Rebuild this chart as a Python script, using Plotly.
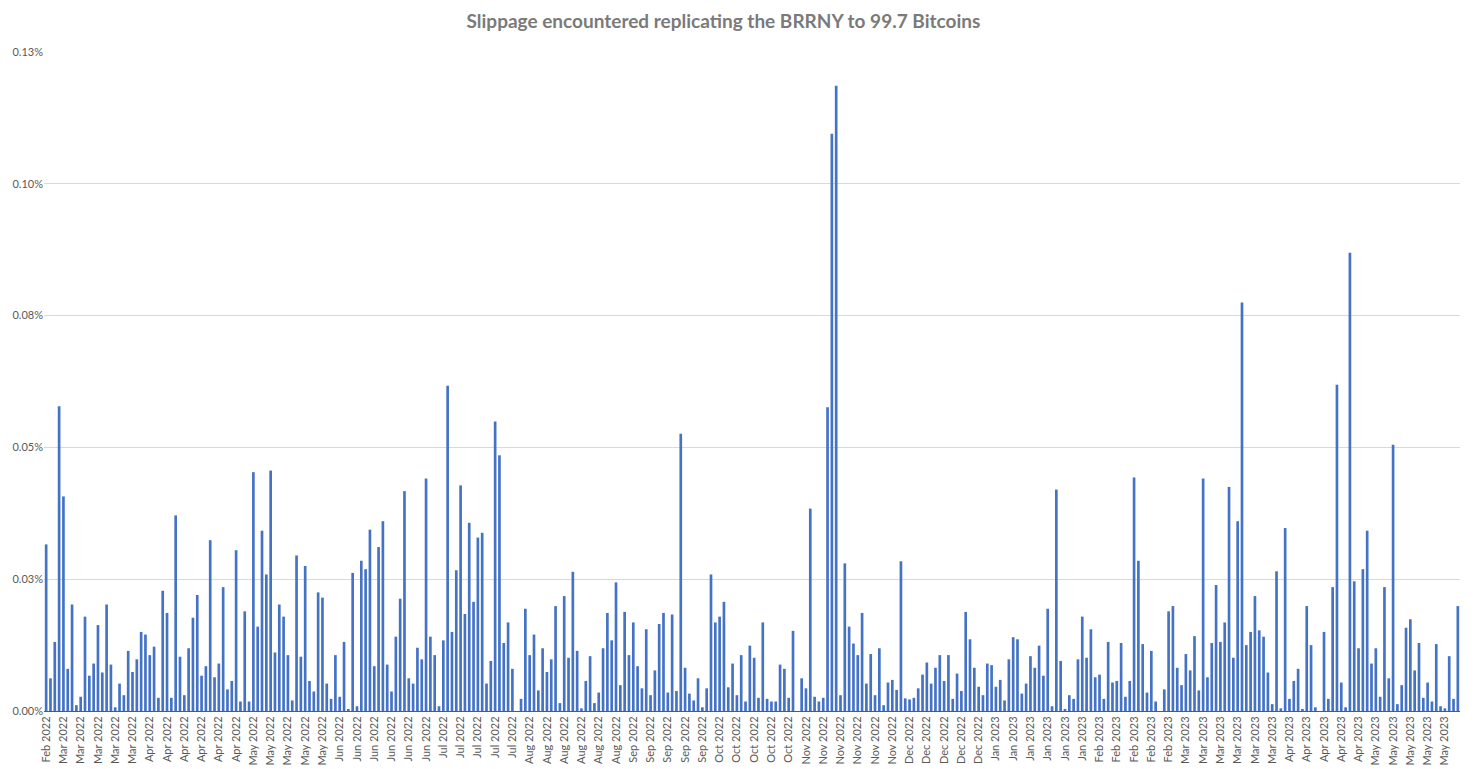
import pandas as pd
import plotly.graph_objects as go

# Categories: weekdays from late Feb 2022 to end of May 2023
start_date = "2022-02-28"
end_date = "2023-05-31"
dates = pd.bdate_range(start_date, end_date)
categories = [d.strftime("%Y-%m-%d") for d in dates]

# Slippage values in percent (e.g. 0.0316 = 0.0316%)
slip_a = [0.0316, 0.0062, 0.0131, 0.0578, 0.0407, 0.0080, 0.0202, 0.0011, 0.0027, 0.0179,
          0.0067, 0.0090, 0.0163, 0.0073, 0.0202, 0.0088, 0.0007, 0.0052, 0.0030, 0.0114,
          0.0074, 0.0098, 0.0150, 0.0145, 0.0106, 0.0122]
slip_b = [0.0025, 0.0228, 0.0186, 0.0025, 0.0371, 0.0103, 0.0030, 0.0119, 0.0177, 0.0220,
          0.0067, 0.0085, 0.0324, 0.0064, 0.0090, 0.0235, 0.0041, 0.0057, 0.0305, 0.0018,
          0.0189, 0.0018, 0.0453, 0.0160, 0.0342, 0.0259, 0.0456]
slip_c = [0.0111, 0.0202, 0.0179, 0.0106, 0.0020, 0.0295, 0.0103, 0.0275, 0.0057, 0.0037,
          0.0225, 0.0215, 0.0052, 0.0023, 0.0106, 0.0027, 0.0131, 0.0002, 0.0262, 0.0009,
          0.0285, 0.0269, 0.0344, 0.0085, 0.0311, 0.0360, 0.0088, 0.0037]
slip_d = [0.0141, 0.0213, 0.0417, 0.0062, 0.0052, 0.0120, 0.0098, 0.0441, 0.0141, 0.0106,
          0.0009, 0.0134, 0.0617, 0.0150, 0.0267, 0.0428, 0.0184, 0.0357, 0.0207, 0.0329,
          0.0338, 0.0052, 0.0095, 0.0549, 0.0485, 0.0129, 0.0168, 0.0080, 0.0]
slip_e = [0.0023, 0.0194, 0.0106, 0.0145, 0.0039, 0.0119, 0.0074, 0.0098, 0.0199, 0.0015,
          0.0218, 0.0101, 0.0264, 0.0114, 0.0005, 0.0057, 0.0104, 0.0015, 0.0035, 0.0119,
          0.0186, 0.0134, 0.0244, 0.0049, 0.0188, 0.0106, 0.0168]
slip_f = [0.0085, 0.0043, 0.0155, 0.0030, 0.0077, 0.0165, 0.0186, 0.0035, 0.0183, 0.0038,
          0.0526, 0.0082, 0.0033, 0.0020, 0.0062, 0.0007, 0.0043, 0.0259, 0.0168, 0.0179,
          0.0207, 0.0045, 0.0090, 0.0030, 0.0106, 0.0018, 0.0124]
slip_g = [0.0101, 0.0025, 0.0168, 0.0023, 0.0018, 0.0018, 0.0088, 0.0080, 0.0025, 0.0152,
          0.0, 0.0062, 0.0043, 0.0384, 0.0027, 0.0018, 0.0025, 0.0576, 0.1095, 0.1186,
          0.0030, 0.0280, 0.0160, 0.0128, 0.0106, 0.0186, 0.0052, 0.0108]
slip_h = [0.0030, 0.0119, 0.0011, 0.0054, 0.0059, 0.0040, 0.0284, 0.0024, 0.0022, 0.0025,
          0.0043, 0.0069, 0.0092, 0.0052, 0.0082, 0.0106, 0.0057, 0.0106, 0.0023, 0.0071,
          0.0038, 0.0188, 0.0136, 0.0082, 0.0046, 0.0030, 0.0090, 0.0087]
slip_i = [0.0046, 0.0059, 0.0020, 0.0098, 0.0140, 0.0136, 0.0033, 0.0052, 0.0104, 0.0082,
          0.0124, 0.0067, 0.0194, 0.0009, 0.0420, 0.0095, 0.0004, 0.0030, 0.0023, 0.0098,
          0.0179, 0.0101, 0.0155, 0.0064, 0.0069, 0.0023, 0.0131, 0.0054]
slip_j = [0.0057, 0.0129, 0.0027, 0.0057, 0.0443, 0.0285, 0.0127, 0.0035, 0.0114, 0.0018,
          0.0, 0.0041, 0.0189, 0.0199, 0.0082, 0.0049, 0.0108, 0.0077, 0.0142, 0.0039,
          0.0441, 0.0064, 0.0129, 0.0239, 0.0131, 0.0168, 0.0425, 0.0101]
slip_k = [0.0360, 0.0775, 0.0125, 0.0150, 0.0218, 0.0153, 0.0141, 0.0073, 0.0013, 0.0265,
          0.0005, 0.0347, 0.0023, 0.0057, 0.0080, 0.0002, 0.0199, 0.0125, 0.0007, 0.0,
          0.0150, 0.0023, 0.0235, 0.0619, 0.0054, 0.0007, 0.0869, 0.0246]
slip_l = [0.0119, 0.0269, 0.0342, 0.0090, 0.0119, 0.0027, 0.0235, 0.0062, 0.0505, 0.0013,
          0.0049, 0.0158, 0.0174, 0.0077, 0.0129, 0.0025, 0.0054, 0.0018, 0.0127, 0.0009,
          0.0005, 0.0104, 0.0023, 0.0199]

slippage = (slip_a + slip_b + slip_c + slip_d + slip_e + slip_f + slip_g + slip_h
            + slip_i + slip_j + slip_k + slip_l)

y_tickvals = [0, 0.025, 0.05, 0.075, 0.1, 0.125]
y_ticktext = ["0.00%", "0.03%", "0.05%", "0.08%", "0.10%", "0.13%"]

x_tickvals = categories[::4]
x_ticktext = [d.strftime("%b %Y") for d in dates[::4]]

fig = go.Figure(go.Bar(
    x=categories,
    y=slippage,
    marker=dict(color="#4472C4", line=dict(width=0)),
))

# the page adds an 8px body margin, so the figure is sized to fit the window
fig.update_layout(
    width=1466, height=761,
    margin=dict(l=36, r=14, t=44, b=58, autoexpand=False),
    paper_bgcolor="white", plot_bgcolor="white",
    bargap=0.38,
    showlegend=False,
    font=dict(family="Lato, Liberation Sans, sans-serif", color="#595959"),
    title=dict(
        text="<b>Slippage encountered replicating the BRRNY to 99.7 Bitcoins</b>",
        x=0.488, xanchor="center", y=0.983, yanchor="middle",
        font=dict(size=19, color="#7a7a7a", family="Lato, Liberation Sans, sans-serif"),
    ),
    xaxis=dict(
        type="category", automargin=False,
        range=[-0.5, len(categories) - 0.5],
        tickmode="array", tickvals=x_tickvals, ticktext=x_ticktext,
        tickangle=-90, tickfont=dict(size=11, color="#595959"),
        showgrid=False, showline=True, linecolor="#595959", linewidth=1,
        ticks="", zeroline=False,
    ),
    yaxis=dict(
        range=[0, 0.125], automargin=False,
        tickmode="array", tickvals=y_tickvals, ticktext=y_ticktext,
        tickfont=dict(size=11, color="#595959"),
        showgrid=True, gridcolor="#d9d9d9", gridwidth=1,
        zeroline=False, showline=False, ticks="",
    ),
)

fig.write_html("out.html")
